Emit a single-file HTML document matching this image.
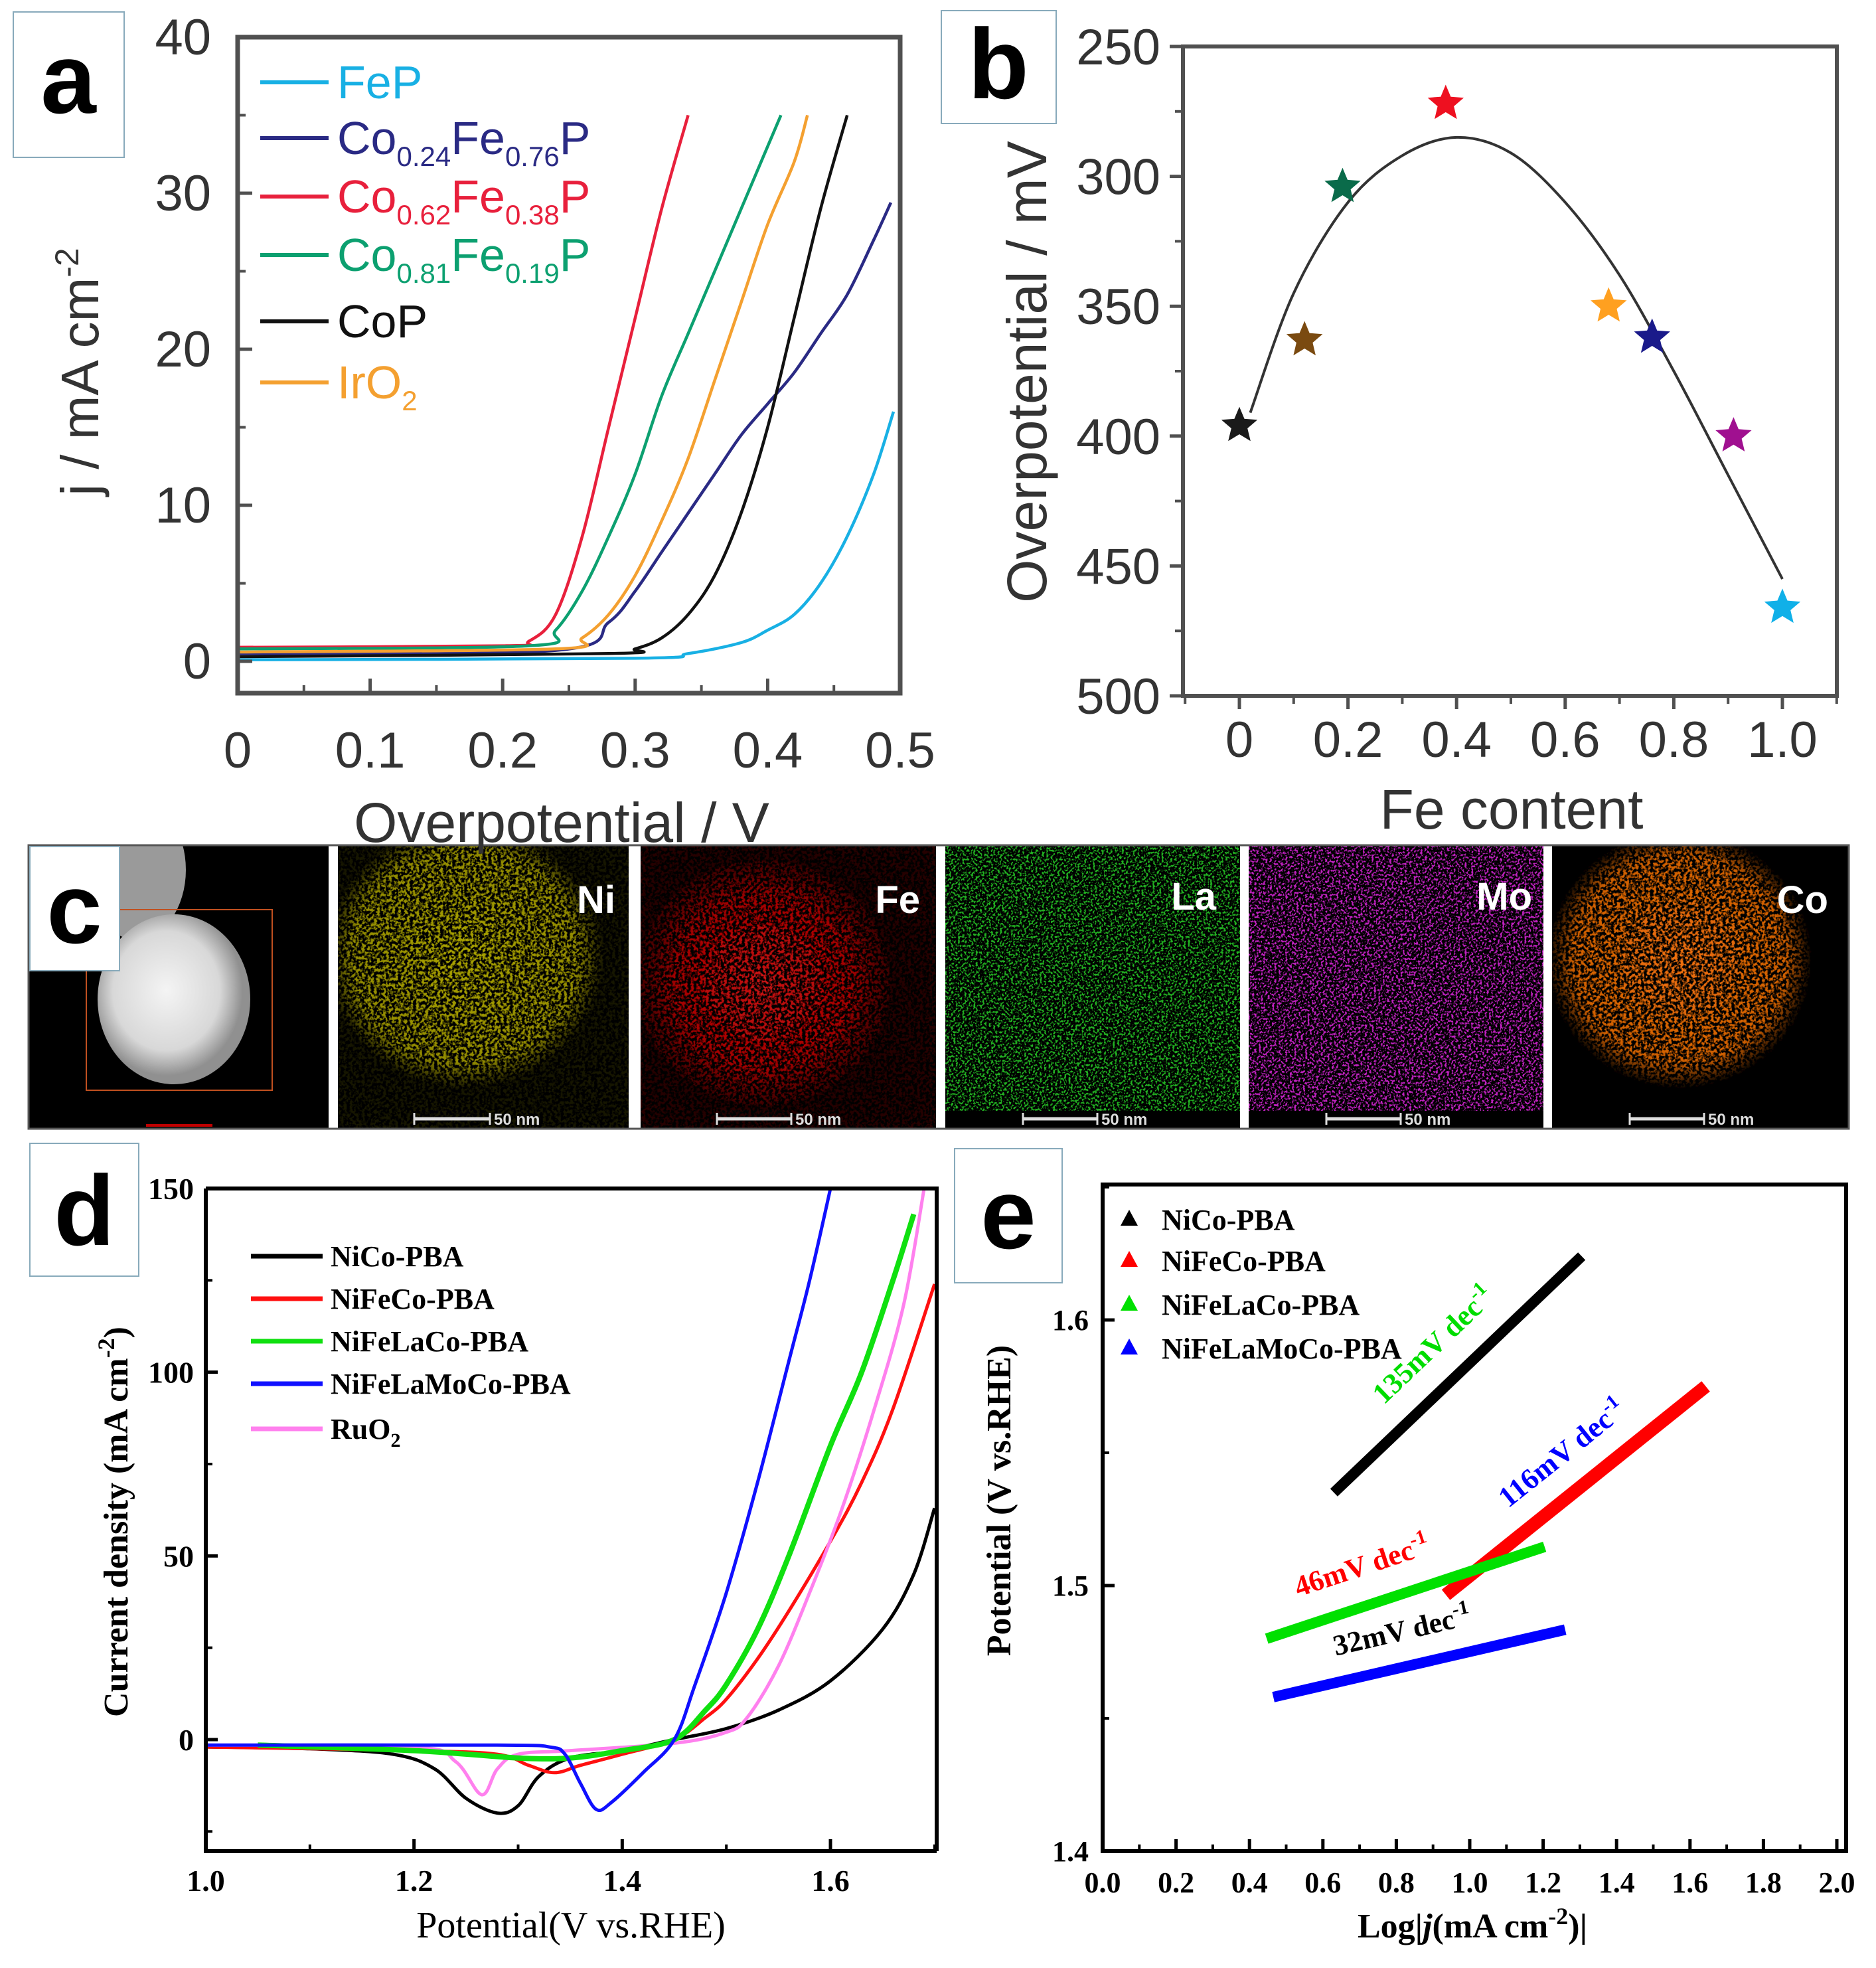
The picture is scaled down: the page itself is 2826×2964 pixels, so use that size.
<!DOCTYPE html>
<html><head><meta charset="utf-8">
<style>
html,body{margin:0;padding:0;background:#fff;}
svg{display:block;}
.sans{font-family:"Liberation Sans",sans-serif;}
.serif{font-family:"Liberation Serif",serif;}
</style></head>
<body>
<svg id="fig" xmlns="http://www.w3.org/2000/svg" width="2826" height="2964" viewBox="0 0 2826 2964">
<defs>
<filter id="spk" x="0" y="0" width="100%" height="100%">
<feTurbulence type="fractalNoise" baseFrequency="0.22" numOctaves="2" seed="4" result="n"/>
<feColorMatrix in="n" type="matrix" values="0 0 0 0 0  0 0 0 0 0  0 0 0 0 0  5 0 0 0 -2.1" result="a"/>
<feComposite in="SourceGraphic" in2="a" operator="in"/>
</filter>
<filter id="spk2" x="0" y="0" width="100%" height="100%">
<feTurbulence type="fractalNoise" baseFrequency="0.3" numOctaves="2" seed="9" result="n"/>
<feColorMatrix in="n" type="matrix" values="0 0 0 0 0  0 0 0 0 0  0 0 0 0 0  7 0 0 0 -3.5" result="a"/>
<feComposite in="SourceGraphic" in2="a" operator="in"/>
</filter>
<radialGradient id="gNi"><stop offset="0" stop-color="#c8c000"/><stop offset="0.8" stop-color="#a8a000"/><stop offset="1" stop-color="#a8a000" stop-opacity="0"/></radialGradient>
<radialGradient id="gFe"><stop offset="0" stop-color="#ff2020"/><stop offset="0.7" stop-color="#c00000"/><stop offset="1" stop-color="#800000" stop-opacity="0.3"/></radialGradient>
<radialGradient id="gCo"><stop offset="0" stop-color="#f07010"/><stop offset="0.8" stop-color="#d06000"/><stop offset="1" stop-color="#d06000" stop-opacity="0"/></radialGradient>
<radialGradient id="gSem" cx="0.45" cy="0.45"><stop offset="0" stop-color="#f4f4f4"/><stop offset="0.7" stop-color="#d8d8d8"/><stop offset="1" stop-color="#909090"/></radialGradient>
<clipPath id="c0"><rect x="43" y="1273" width="452" height="427"/></clipPath>
<clipPath id="c1"><rect x="509" y="1273" width="438" height="427"/></clipPath>
<clipPath id="c2"><rect x="965" y="1273" width="445" height="427"/></clipPath>
<clipPath id="c3"><rect x="1424" y="1273" width="444" height="427"/></clipPath>
<clipPath id="c4"><rect x="1881" y="1273" width="444" height="427"/></clipPath>
<clipPath id="c5"><rect x="2338" y="1273" width="446" height="427"/></clipPath>
</defs>

<!-- Panel c: EDS maps -->
<g id="panel-c">
<rect x="43" y="1273" width="2742" height="427" fill="#fff"/>
<g clip-path="url(#c0)">
<rect x="43" y="1273" width="452" height="427" fill="#000"/>
<ellipse cx="205" cy="1310" rx="75" ry="105" fill="#9a9a9a"/>
<ellipse cx="262" cy="1505" rx="115" ry="128" fill="url(#gSem)"/>
<rect x="130" y="1370" width="280" height="272" fill="none" stroke="#c05020" stroke-width="2"/>
<rect x="220" y="1693" width="100" height="4" fill="#c00000"/>
</g>

<g clip-path="url(#c1)">
<rect x="509" y="1273" width="438" height="427" fill="#000"/>
<g filter="url(#spk)"><rect x="509" y="1273" width="438" height="427" fill="#000"/><ellipse cx="700" cy="1440" rx="210" ry="200" fill="url(#gNi)"/><rect x="509" y="1273" width="438" height="427" fill="#555000" opacity="0.25"/></g>
</g>
<text x="927" y="1375" text-anchor="end" class="sans" font-size="58" font-weight="bold" fill="#fff">Ni</text>
<line x1="624" y1="1685" x2="738" y2="1685" stroke="#ddd" stroke-width="5"/><line x1="624" y1="1676" x2="624" y2="1694" stroke="#ddd" stroke-width="3"/><line x1="738" y1="1676" x2="738" y2="1694" stroke="#ddd" stroke-width="3"/>
<text x="744" y="1694" class="sans" font-size="24" font-weight="bold" fill="#ddd">50 nm</text>

<g clip-path="url(#c2)">
<rect x="965" y="1273" width="445" height="427" fill="#000"/>
<g filter="url(#spk)"><rect x="965" y="1273" width="445" height="427" fill="#000"/><ellipse cx="1150" cy="1480" rx="190" ry="185" fill="url(#gFe)"/><rect x="965" y="1273" width="445" height="427" fill="#700000" opacity="0.35"/></g>
</g>
<text x="1386" y="1375" text-anchor="end" class="sans" font-size="58" font-weight="bold" fill="#fff">Fe</text>
<line x1="1080" y1="1685" x2="1192" y2="1685" stroke="#ddd" stroke-width="5"/><line x1="1080" y1="1676" x2="1080" y2="1694" stroke="#ddd" stroke-width="3"/><line x1="1192" y1="1676" x2="1192" y2="1694" stroke="#ddd" stroke-width="3"/>
<text x="1198" y="1694" class="sans" font-size="24" font-weight="bold" fill="#ddd">50 nm</text>

<g clip-path="url(#c3)">
<rect x="1424" y="1273" width="444" height="427" fill="#000"/>
<g filter="url(#spk2)"><rect x="1424" y="1273" width="444" height="400" fill="#20b020"/></g>
</g>
<text x="1832" y="1370" text-anchor="end" class="sans" font-size="58" font-weight="bold" fill="#fff">La</text>
<line x1="1541" y1="1685" x2="1653" y2="1685" stroke="#ddd" stroke-width="5"/><line x1="1541" y1="1676" x2="1541" y2="1694" stroke="#ddd" stroke-width="3"/><line x1="1653" y1="1676" x2="1653" y2="1694" stroke="#ddd" stroke-width="3"/>
<text x="1659" y="1694" class="sans" font-size="24" font-weight="bold" fill="#ddd">50 nm</text>

<g clip-path="url(#c4)">
<rect x="1881" y="1273" width="444" height="427" fill="#000"/>
<g filter="url(#spk2)"><rect x="1881" y="1273" width="444" height="400" fill="#c020c0"/></g>
</g>
<text x="2308" y="1370" text-anchor="end" class="sans" font-size="58" font-weight="bold" fill="#fff">Mo</text>
<line x1="1998" y1="1685" x2="2110" y2="1685" stroke="#ddd" stroke-width="5"/><line x1="1998" y1="1676" x2="1998" y2="1694" stroke="#ddd" stroke-width="3"/><line x1="2110" y1="1676" x2="2110" y2="1694" stroke="#ddd" stroke-width="3"/>
<text x="2116" y="1694" class="sans" font-size="24" font-weight="bold" fill="#ddd">50 nm</text>

<g clip-path="url(#c5)">
<rect x="2338" y="1273" width="446" height="427" fill="#000"/>
<g filter="url(#spk)"><rect x="2338" y="1273" width="446" height="427" fill="#000"/><ellipse cx="2530" cy="1445" rx="200" ry="195" fill="url(#gCo)"/></g>
</g>
<text x="2754" y="1375" text-anchor="end" class="sans" font-size="58" font-weight="bold" fill="#fff">Co</text>
<line x1="2455" y1="1685" x2="2567" y2="1685" stroke="#ddd" stroke-width="5"/><line x1="2455" y1="1676" x2="2455" y2="1694" stroke="#ddd" stroke-width="3"/><line x1="2567" y1="1676" x2="2567" y2="1694" stroke="#ddd" stroke-width="3"/>
<text x="2573" y="1694" class="sans" font-size="24" font-weight="bold" fill="#ddd">50 nm</text>
<rect x="43" y="1273" width="2742" height="427" fill="none" stroke="#555" stroke-width="3"/>
</g>

<!-- Panel labels -->
<g><rect x="20" y="18" width="167" height="219" fill="#fff" stroke="#8ab" stroke-width="2"/><text x="103" y="170" text-anchor="middle" class="sans" font-size="150" font-weight="bold">a</text></g>
<g><rect x="1418" y="16" width="173" height="170" fill="#fff" stroke="#8ab" stroke-width="2"/><text x="1504" y="148" text-anchor="middle" class="sans" font-size="150" font-weight="bold">b</text></g>
<g><rect x="45" y="1275" width="135" height="187" fill="#fff" stroke="#8ab" stroke-width="2"/><text x="112" y="1420" text-anchor="middle" class="sans" font-size="150" font-weight="bold">c</text></g>
<g><rect x="45" y="1722" width="164" height="200" fill="#fff" stroke="#8ab" stroke-width="2"/><text x="127" y="1875" text-anchor="middle" class="sans" font-size="150" font-weight="bold">d</text></g>
<g><rect x="1438" y="1730" width="162" height="202" fill="#fff" stroke="#8ab" stroke-width="2"/><text x="1519" y="1880" text-anchor="middle" class="sans" font-size="150" font-weight="bold">e</text></g>

<g id="pa"></g>
<g id="pb"></g>
<g id="pd"></g>
<g id="pe"></g>
</svg>

<script>
// ---------- Panel a data ----------
const aSeriesNames = ['FeP','Co0.24Fe0.76P','Co0.62Fe0.38P','Co0.81Fe0.19P','CoP','IrO2'];
const aColors = ['#18b0e4','#2a2a84','#e8203c','#0ca070','#111111','#f4a030'];
const aFeP_x = [0,0.30,0.34,0.38,0.40,0.42,0.44,0.46,0.48,0.495];
const aFeP_y = [0.1,0.2,0.5,1.2,2,3,5,8,12,16];
const aCo24_x = [0,0.24,0.28,0.30,0.32,0.34,0.36,0.38,0.40,0.42,0.44,0.46,0.48,0.493];
const aCo24_y = [0.5,0.7,2.5,4.5,7,9.5,12,14.5,16.5,18.5,21,23.5,27,29.4];
const aCo62_x = [0,0.20,0.22,0.24,0.26,0.28,0.30,0.32,0.34];
const aCo62_y = [0.9,1.0,1.3,3,8,15,22,29,35];
const aCo81_x = [0,0.22,0.24,0.26,0.28,0.30,0.32,0.34,0.36,0.38,0.40,0.41];
const aCo81_y = [0.8,1.0,2,4.5,8,12,17,21,25,29,33,35];
const aCoP_x = [0,0.28,0.30,0.32,0.34,0.36,0.38,0.40,0.42,0.44,0.46];
const aCoP_y = [0.3,0.5,0.8,1.5,3,5.5,9.5,15,22,29,35];
const aIrO2_x = [0,0.24,0.26,0.28,0.30,0.32,0.34,0.36,0.38,0.40,0.42,0.43];
const aIrO2_y = [0.6,0.8,1.5,3,5.5,9,13,18,23,28,32,35];
const aXTicks = [0,0.1,0.2,0.3,0.4,0.5];
const aYTicks = [0,10,20,30,40];

// ---------- Panel b data ----------
const bFe = [0,0.12,0.19,0.38,0.68,0.76,0.91,1.0];
const bEta = [396,363,304,272,350,362,400,466];
const bStarColors = ['#1a1a1a','#7a4a10','#0a6b4a','#ee1020','#ffa020','#1a1a8a','#a01090','#10b0e8'];
const bFitX = [0.02,0.1,0.2,0.3,0.4,0.5,0.6,0.7,0.8,0.9,1.0];
const bFitY = [391,345,310,292,285,291,310,338,375,415,455];
const bXTicks = [0,0.2,0.4,0.6,0.8,1.0];
const bXTickLabels = ['0','0.2','0.4','0.6','0.8','1.0'];
const bYTicks = [250,300,350,400,450,500];

// ---------- Panel d data ----------
const dNames = ['NiCo-PBA','NiFeCo-PBA','NiFeLaCo-PBA','NiFeLaMoCo-PBA','RuO2'];
const dColors = ['#000000','#ff1010','#10e010','#1010ff','#ff80ee'];
const dNiCo_x = [1.0,1.1,1.18,1.22,1.25,1.28,1.30,1.32,1.35,1.40,1.45,1.5,1.55,1.6,1.65,1.68,1.70];
const dNiCo_y = [-2,-2.5,-4,-8,-16,-20,-18,-10,-5,-3,0,3,8,16,30,45,63];
const dNiFeCo_x = [1.0,1.2,1.28,1.31,1.335,1.36,1.40,1.45,1.48,1.5,1.53,1.56,1.6,1.63,1.66,1.70];
const dNiFeCo_y = [-2,-3,-4,-7,-9,-7,-4,0,6,11,22,35,54,70,90,124];
const dNiFeLaCo_x = [1.05,1.2,1.3,1.35,1.4,1.45,1.48,1.5,1.53,1.56,1.6,1.63,1.66,1.68];
const dNiFeLaCo_y = [-1.5,-3,-5,-5,-3,0,8,15,30,50,80,100,125,143];
const dNiFeLaMoCo_x = [1.0,1.28,1.33,1.345,1.36,1.375,1.39,1.42,1.45,1.47,1.5,1.53,1.56,1.58,1.60];
const dNiFeLaMoCo_y = [-1.5,-1.5,-2,-4,-12,-19,-17,-9,0,15,40,70,103,125,150];
const dRuO2_x = [1.0,1.2,1.24,1.265,1.28,1.30,1.35,1.45,1.5,1.52,1.55,1.58,1.61,1.64,1.67,1.69];
const dRuO2_y = [-1.5,-2,-6,-15,-8,-4,-3,-1,2,6,20,40,62,88,118,150];
const dXTicks = [1.0,1.2,1.4,1.6];
const dXTickLabels = ['1.0','1.2','1.4','1.6'];
const dYTicks = [0,50,100,150];

// ---------- Panel e data ----------
const eNames = ['NiCo-PBA','NiFeCo-PBA','NiFeLaCo-PBA','NiFeLaMoCo-PBA'];
const eColors = ['#000000','#ff0000','#00e000','#0000ff'];
const eLogJ_start = [0.63,0.935,0.447,0.465];
const eLogJ_end = [1.305,1.643,1.204,1.26];
const eE_start = [1.535,1.4965,1.480,1.458];
const eE_end = [1.624,1.575,1.5146,1.4834];
const eSlopes = ['135mV dec','116mV dec','46mV dec','32mV dec'];
const eXTicks = [0.0,0.2,0.4,0.6,0.8,1.0,1.2,1.4,1.6,1.8,2.0];
const eXTickLabels = ['0.0','0.2','0.4','0.6','0.8','1.0','1.2','1.4','1.6','1.8','2.0'];
const eYTicks = [1.4,1.5,1.6];
const eYTickLabels = ['1.4','1.5','1.6'];

// ---------- helpers ----------
const NS = 'http://www.w3.org/2000/svg';
function mk(parent, tag, attrs, text){
  const e = document.createElementNS(NS, tag);
  for (const k in attrs) e.setAttribute(k, attrs[k]);
  if (text !== undefined) e.textContent = text;
  parent.appendChild(e);
  return e;
}
function scale(d0,d1,p0,p1){ return v => p0 + (v-d0)*(p1-p0)/(d1-d0); }
function pathFrom(xs, ys, sx, sy){
  const P = xs.map((x,i)=>[sx(x), sy(ys[i])]);
  let d = 'M'+P[0][0].toFixed(1)+','+P[0][1].toFixed(1);
  for(let i=0;i<P.length-1;i++){
    const p0=P[Math.max(0,i-1)], p1=P[i], p2=P[i+1], p3=P[Math.min(P.length-1,i+2)];
    const c1x=p1[0]+(p2[0]-p0[0])/6, c1y=p1[1]+(p2[1]-p0[1])/6;
    const c2x=p2[0]-(p3[0]-p1[0])/6, c2y=p2[1]-(p3[1]-p1[1])/6;
    d += ' C'+c1x.toFixed(1)+','+c1y.toFixed(1)+' '+c2x.toFixed(1)+','+c2y.toFixed(1)+' '+p2[0].toFixed(1)+','+p2[1].toFixed(1);
  }
  return d;
}
function starPath(cx, cy, R){
  let d=''; const r=R*0.45;
  for(let i=0;i<10;i++){
    const a = -Math.PI/2 + i*Math.PI/5;
    const rr = i%2?r:R;
    d += (i?'L':'M')+(cx+rr*Math.cos(a)).toFixed(1)+','+(cy+rr*Math.sin(a)).toFixed(1);
  }
  return d+'Z';
}

// ================= Panel a =================
(function(){
  const g = document.getElementById('pa');
  const L=358,R=1356,T=56,B=1044;
  const sx = scale(0,0.5,L,R), sy = scale(-2.04,40,B,T);
  const xs=[aFeP_x,aCo24_x,aCo62_x,aCo81_x,aCoP_x,aIrO2_x];
  const ys=[aFeP_y,aCo24_y,aCo62_y,aCo81_y,aCoP_y,aIrO2_y];
  for(let i=0;i<6;i++){
    const p = mk(g,'path',{d:pathFrom(xs[i],ys[i],sx,sy),fill:'none',stroke:aColors[i],'stroke-width':4.5,'stroke-linejoin':'round'});
    
    
  }
  const fr = mk(g,'rect',{x:L,y:T,width:R-L,height:B-T,fill:'none',stroke:'#505050','stroke-width':7});
  
  
  aXTicks.forEach((v,i)=>{
    mk(g,'line',{x1:sx(v),y1:B,x2:sx(v),y2:B-22,stroke:'#505050','stroke-width':5});
    if(i<aXTicks.length-1) mk(g,'line',{x1:sx(v+0.05),y1:B,x2:sx(v+0.05),y2:B-12,stroke:'#505050','stroke-width':4});
    const t = mk(g,'text',{x:sx(v),y:1156,'text-anchor':'middle','class':'sans','font-size':76,fill:'#333'},String(v));
    
    
  });
  aYTicks.forEach((v,i)=>{
    mk(g,'line',{x1:L,y1:sy(v),x2:L+22,y2:sy(v),stroke:'#505050','stroke-width':5});
    if(i<aYTicks.length-1) mk(g,'line',{x1:L,y1:sy(v+5),x2:L+12,y2:sy(v+5),stroke:'#505050','stroke-width':4});
    const t = mk(g,'text',{x:318,y:sy(v)+26,'text-anchor':'end','class':'sans','font-size':76,fill:'#333'},String(v));
    
    
  });
  const xt = mk(g,'text',{x:846,y:1268,'text-anchor':'middle','class':'sans','font-size':84,fill:'#333'},'Overpotential / V');
  
  
  const yt = mk(g,'text',{x:0,y:0,transform:'translate(148,560) rotate(-90)','text-anchor':'middle','class':'sans','font-size':80,fill:'#333'});
  
  
  mk(yt,'tspan',{},'j / mA cm');
  mk(yt,'tspan',{dy:-30,'font-size':50},'-2');
  const rows=[116,200,288,376,476,568];
  const parts=[[['FeP']],[['Co'],['0.24','s'],['Fe'],['0.76','s'],['P']],[['Co'],['0.62','s'],['Fe'],['0.38','s'],['P']],[['Co'],['0.81','s'],['Fe'],['0.19','s'],['P']],[['CoP']],[['IrO'],['2','s']]];
  rows.forEach((y,i)=>{
    const ln = mk(g,'line',{x1:392,y1:y+8,x2:495,y2:y+8,stroke:aColors[i],'stroke-width':6});
    
    
    const t = mk(g,'text',{x:508,y:y+32,'class':'sans','font-size':70,fill:aColors[i]});
    
    
    parts[i].forEach((pp,j)=>{
      if(pp[1]==='s'){ mk(t,'tspan',{dy:18,'font-size':42},pp[0]); }
      else { mk(t,'tspan',{dy:(j>0&&parts[i][j-1][1]==='s')?-18:0},pp[0]); }
    });
  });
})();

// ================= Panel b =================
(function(){
  const g = document.getElementById('pb');
  const L=1782,R=2767,T=70,B=1048;
  const sx = scale(0,1,1867,2685), sy = scale(250,500,T,B);
  const c = mk(g,'path',{d:pathFrom(bFitX,bFitY,sx,sy),fill:'none',stroke:'#333','stroke-width':4});
  
  
  bFe.forEach((v,i)=>{
    const s = mk(g,'path',{d:starPath(sx(v),sy(bEta[i]),26),fill:bStarColors[i],stroke:bStarColors[i],'stroke-width':2});
    
    
  });
  const fr = mk(g,'rect',{x:L,y:T,width:R-L,height:B-T,fill:'none',stroke:'#505050','stroke-width':6});
  
  
  bXTicks.forEach((v,i)=>{
    mk(g,'line',{x1:sx(v),y1:B,x2:sx(v),y2:B+20,stroke:'#505050','stroke-width':5});
    mk(g,'line',{x1:sx(v+0.1),y1:B,x2:sx(v+0.1),y2:B+12,stroke:'#505050','stroke-width':4});
    const t = mk(g,'text',{x:sx(v),y:1140,'text-anchor':'middle','class':'sans','font-size':76,fill:'#333'},bXTickLabels[i]);
    
    
  });
  mk(g,'line',{x1:sx(-0.1),y1:B,x2:sx(-0.1),y2:B+12,stroke:'#505050','stroke-width':4});
  bYTicks.forEach((v,i)=>{
    mk(g,'line',{x1:L,y1:sy(v),x2:L-20,y2:sy(v),stroke:'#505050','stroke-width':5});
    if(i<bYTicks.length-1) mk(g,'line',{x1:L,y1:sy(v+25),x2:L-12,y2:sy(v+25),stroke:'#505050','stroke-width':4});
    const t = mk(g,'text',{x:1748,y:sy(v)+27,'text-anchor':'end','class':'sans','font-size':76,fill:'#333'},String(v));
    
    
  });
  const xt = mk(g,'text',{x:2277,y:1248,'text-anchor':'middle','class':'sans','font-size':84,fill:'#333'},'Fe content');
  
  
  const yt = mk(g,'text',{x:0,y:0,transform:'translate(1576,560) rotate(-90)','text-anchor':'middle','class':'sans','font-size':84,fill:'#333'},'Overpotential / mV');
  
  
})();

// ================= Panel d =================
(function(){
  const g = document.getElementById('pd');
  const L=310,R=1411,T=1790,B=2788;
  const sx = scale(1.0,1.6,310,1251), sy = scale(0,150,2620,1790);
  const cp = mk(g,'clipPath',{id:'clipd'}); mk(cp,'rect',{x:L,y:T,width:R-L,height:B-T});
  const xs=[dNiCo_x,dNiFeCo_x,dNiFeLaCo_x,dNiFeLaMoCo_x,dRuO2_x];
  const ys=[dNiCo_y,dNiFeCo_y,dNiFeLaCo_y,dNiFeLaMoCo_y,dRuO2_y];
  const order=[0,1,4,2,3];
  order.forEach(i=>{
    const p = mk(g,'path',{d:pathFrom(xs[i],ys[i],sx,sy),fill:'none',stroke:dColors[i],'stroke-width':i===2?8:5,'stroke-linejoin':'round','clip-path':'url(#clipd)'});
    
    
  });
  const fr = mk(g,'path',{d:`M${L},${T} L${L},${B} L${R},${B} M${L},${T} L${R},${T} L${R},${B}`,fill:'none',stroke:'#000','stroke-width':6});
  
  
  dXTicks.forEach((v,i)=>{
    mk(g,'line',{x1:sx(v),y1:B,x2:sx(v),y2:B-18,stroke:'#000','stroke-width':5});
    mk(g,'line',{x1:sx(v+0.1),y1:B,x2:sx(v+0.1),y2:B-10,stroke:'#000','stroke-width':4});
    const t = mk(g,'text',{x:sx(v),y:2848,'text-anchor':'middle','class':'serif','font-size':46,'font-weight':'bold'},dXTickLabels[i]);
    
    
  });
  dYTicks.forEach(v=>{
    mk(g,'line',{x1:L,y1:sy(v),x2:L+18,y2:sy(v),stroke:'#000','stroke-width':5});
    mk(g,'line',{x1:L,y1:sy(v-25),x2:L+10,y2:sy(v-25),stroke:'#000','stroke-width':4});
    const t = mk(g,'text',{x:292,y:sy(v)+16,'text-anchor':'end','class':'serif','font-size':46,'font-weight':'bold'},String(v));
    
    
  });
  const xt = mk(g,'text',{x:860,y:2918,'text-anchor':'middle','class':'serif','font-size':56},'Potential(V vs.RHE)');
  
  
  const yt = mk(g,'text',{x:0,y:0,transform:'translate(192,2292) rotate(-90)','text-anchor':'middle','class':'serif','font-size':52,'font-weight':'bold'});
  
  
  mk(yt,'tspan',{},'Current density (mA cm');
  mk(yt,'tspan',{dy:-20,'font-size':36},'-2');
  mk(yt,'tspan',{dy:20},')');
  const rows=[1892,1956,2020,2084,2152];
  rows.forEach((y,i)=>{
    const ln = mk(g,'line',{x1:378,y1:y,x2:486,y2:y,stroke:dColors[i],'stroke-width':7});
    
    
    const t = mk(g,'text',{x:498,y:y+15,'class':'serif','font-size':44,'font-weight':'bold'});
    
    
    if(i===4){ mk(t,'tspan',{},'RuO'); mk(t,'tspan',{dy:12,'font-size':30},'2'); }
    else t.textContent = dNames[i];
  });
})();

// ================= Panel e =================
(function(){
  const g = document.getElementById('pe');
  const L=1661,R=2781,T=1784,B=2788;
  const sx = scale(0,2.0,1661,2767), sy = scale(1.4,1.6,2788,1988);
  eNames.forEach((n,i)=>{
    const ln = mk(g,'line',{x1:sx(eLogJ_start[i]),y1:sy(eE_start[i]),x2:sx(eLogJ_end[i]),y2:sy(eE_end[i]),stroke:eColors[i],'stroke-width':i===1?20:16});
    
    
  });
  const fr = mk(g,'rect',{x:L,y:T,width:R-L,height:B-T,fill:'none',stroke:'#000','stroke-width':6});
  
  
  eXTicks.forEach((v,i)=>{
    mk(g,'line',{x1:sx(v),y1:B,x2:sx(v),y2:B-18,stroke:'#000','stroke-width':5});
    if(i<eXTicks.length-1) mk(g,'line',{x1:sx(v+0.1),y1:B,x2:sx(v+0.1),y2:B-10,stroke:'#000','stroke-width':4});
    const t = mk(g,'text',{x:sx(v),y:2850,'text-anchor':'middle','class':'serif','font-size':44,'font-weight':'bold'},eXTickLabels[i]);
    
    
  });
  eYTicks.forEach((v,i)=>{
    mk(g,'line',{x1:L,y1:sy(v),x2:L+18,y2:sy(v),stroke:'#000','stroke-width':5});
    mk(g,'line',{x1:L,y1:sy(v+0.05),x2:L+10,y2:sy(v+0.05),stroke:'#000','stroke-width':4});
    const t = mk(g,'text',{x:1640,y:sy(v)+15,'text-anchor':'end','class':'serif','font-size':44,'font-weight':'bold'},eYTickLabels[i]);
    
    
  });
  const xt = mk(g,'text',{x:2218,y:2918,'text-anchor':'middle','class':'serif','font-size':52,'font-weight':'bold'});
  
  
  mk(xt,'tspan',{},'Log|');
  mk(xt,'tspan',{'font-style':'italic'},'j');
  mk(xt,'tspan',{},'(mA cm');
  mk(xt,'tspan',{dy:-20,'font-size':36},'-2');
  mk(xt,'tspan',{dy:20},')|');
  const yt = mk(g,'text',{x:0,y:0,transform:'translate(1522,2260) rotate(-90)','text-anchor':'middle','class':'serif','font-size':52,'font-weight':'bold'},'Potential (V vs.RHE)');
  
  
  const rows=[1836,1898,1964,2030];
  rows.forEach((y,i)=>{
    const tri = mk(g,'path',{d:`M1701,${y-14} L1714,${y+10} L1688,${y+10} Z`,fill:eColors[i]});
    
    
    const t = mk(g,'text',{x:1750,y:y+16,'class':'serif','font-size':44,'font-weight':'bold'},eNames[i]);
    
    
  });
  const ann = [
    {i:0, x:2169, y:2036, c:'#00dd00'},
    {i:1, x:2362, y:2200, c:'#0000ff'},
    {i:2, x:2056, y:2372, c:'#ff0000'},
    {i:3, x:2115, y:2470, c:'#000000'}
  ];
  ann.forEach(a=>{
    const k = a.i;
    const dx = sx(eLogJ_end[k])-sx(eLogJ_start[k]);
    const dy = sy(eE_end[k])-sy(eE_start[k]);
    const ang = Math.atan2(dy,dx)*180/Math.PI;
    const t = mk(g,'text',{x:0,y:0,transform:`translate(${a.x},${a.y}) rotate(${ang.toFixed(1)})`,'text-anchor':'middle','class':'serif','font-size':44,'font-weight':'bold',fill:a.c});
    
    
    mk(t,'tspan',{},eSlopes[a.i]);
    mk(t,'tspan',{dy:-18,'font-size':30},'-1');
  });
})();
</script>
</body></html>
